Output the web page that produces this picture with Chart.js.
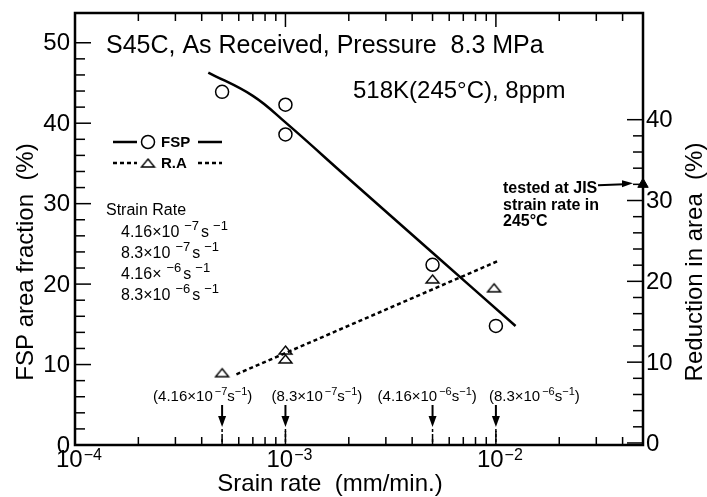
<!DOCTYPE html>
<html><head><meta charset="utf-8">
<script src="https://cdn.jsdelivr.net/npm/chart.js@4.4.0/dist/chart.umd.min.js"></script>
<style>html,body{margin:0;padding:0;background:#fff;}#wrap{width:707px;height:497px;}</style>
</head><body><div id="wrap"><canvas id="c" width="707" height="497"></canvas></div>
<script>
// ---- data ----
const fspRates = [5e-4, 1e-3, 1e-3, 5e-3, 1e-2];
const fspValues = [43.9, 42.3, 38.6, 22.4, 14.8];
const raRates = [5e-4, 1e-3, 1e-3, 5e-3, 9.8e-3];
const raValues = [8.7, 11.5, 10.4, 20.3, 19.2];
const fspFitRates = [4.3e-4, 7e-4, 1e-3, 2e-3, 5e-3, 1.24e-2];
const fspFitValues = [46.3, 43.4, 40.1, 33.1, 23.9, 14.8];
const raFitRates = [5.85e-4, 1.02e-2];
const raFitValues = [8.5, 22.5];
const jisRates = [0.05];
const jisValues = [32.0];
const leftTickLabels = [0, 10, 20, 30, 40, 50];
const rightTickLabels = [0, 10, 20, 30, 40];
const xDecades = [-4, -3, -2];
const arrowRates = [5e-4, 1e-3, 5e-3, 1e-2];
const arrowMantissa = ['(4.16×10', '(8.3×10', '(4.16×10', '(8.3×10'];
const arrowExponent = ['−7', '−7', '−6', '−6'];
const strainRateMantissa = ['4.16×10', '8.3×10', '4.16×', '8.3×10'];
const strainRateExponent = ['−7', '−7', '−6', '−6'];

const F = '"Liberation Sans", Arial, Helvetica, sans-serif';
function pts(xs, ys) { return xs.map((x, i) => ({ x: x, y: ys[i] })); }

function flatTriangle(w, h, fill) {
  const c = document.createElement('canvas');
  c.width = w + 4; c.height = h + 4;
  const g = c.getContext('2d');
  g.lineWidth = 1.4; g.strokeStyle = '#000'; g.fillStyle = '#000';
  g.beginPath(); g.moveTo(c.width / 2, 2); g.lineTo(c.width - 2, h + 2); g.lineTo(2, h + 2); g.closePath();
  if (fill) g.fill(); g.stroke();
  return c;
}
const hollowTri = flatTriangle(13, 8, false);

function rich(ctx, x, y, parts, size, supSize, rise, weight) {
  let cx = x;
  for (const p of parts) {
    if (p.g !== undefined) { cx += p.g; continue; }
    ctx.font = (weight || 'normal') + ' ' + (p.s ? supSize : size) + 'px ' + F;
    ctx.fillText(p.t, cx, p.s ? y - rise : y);
    cx += ctx.measureText(p.t).width;
  }
  return cx - x;
}

function arrowDown(ctx, x, y1, y2) {
  ctx.lineWidth = 2;
  ctx.beginPath(); ctx.moveTo(x, y1); ctx.lineTo(x, y2 - 8); ctx.stroke();
  ctx.beginPath(); ctx.moveTo(x - 4, y2 - 11); ctx.lineTo(x + 4, y2 - 11); ctx.lineTo(x, y2); ctx.closePath(); ctx.fill();
}

const decor = {
  id: 'decor',
  afterDraw(chart) {
    const ctx = chart.ctx;
    const a = chart.chartArea;
    const xs = chart.scales.x, ys = chart.scales.y, y2 = chart.scales.y2;
    ctx.save();
    ctx.strokeStyle = '#000'; ctx.fillStyle = '#000';
    ctx.lineWidth = 2.5;
    ctx.strokeRect(a.left, a.top, a.right - a.left, a.bottom - a.top);
    ctx.lineWidth = 1.5;
    for (const d of xDecades.concat([-1])) {
      for (let m = 1; m <= 9; m++) {
        const v = m * Math.pow(10, d);
        if (v < 1e-4 * 0.999 || v > 0.05 * 1.001) continue;
        const px = xs.getPixelForValue(v);
        const len = m === 1 ? 14 : 8;
        ctx.beginPath();
        ctx.moveTo(px, a.bottom); ctx.lineTo(px, a.bottom - len);
        ctx.moveTo(px, a.top); ctx.lineTo(px, a.top + len);
        ctx.stroke();
      }
    }
    for (let v = 0; v <= 50; v += 2) {
      const py = ys.getPixelForValue(v);
      const len = v % 10 === 0 ? 16 : 10;
      ctx.beginPath(); ctx.moveTo(a.left, py); ctx.lineTo(a.left + len, py); ctx.stroke();
    }
    for (let v = 0; v <= 40; v += 2) {
      const py = y2.getPixelForValue(v);
      const len = v % 10 === 0 ? 16 : 10;
      ctx.beginPath(); ctx.moveTo(a.right, py); ctx.lineTo(a.right - len, py); ctx.stroke();
    }
    ctx.font = '24px ' + F;
    ctx.textBaseline = 'middle';
    ctx.textAlign = 'right';
    for (const v of leftTickLabels) ctx.fillText(String(v), a.left - 5, ys.getPixelForValue(v) + 1);
    ctx.textAlign = 'left';
    for (const v of rightTickLabels) ctx.fillText(String(v), a.right + 3, y2.getPixelForValue(v) + 1);
    ctx.textBaseline = 'alphabetic';
    for (const d of xDecades) {
      const px = xs.getPixelForValue(Math.pow(10, d));
      rich(ctx, px - 19, 467, [{ t: '10' }, { g: 1 }, { t: '−' + String(-d), s: 1 }], 24, 16, 7);
    }
    ctx.font = '24px ' + F;
    ctx.textAlign = 'center';
    ctx.fillText('Srain rate  (mm/min.)', 330, 491);
    ctx.save(); ctx.translate(33, 262); ctx.rotate(-Math.PI / 2);
    ctx.fillText('FSP area fraction  (%)', 0, 0); ctx.restore();
    ctx.save(); ctx.translate(702, 262); ctx.rotate(-Math.PI / 2);
    ctx.fillText('Reduction in area  (%)', 0, 0); ctx.restore();
    ctx.textAlign = 'left';
    ctx.font = '25px ' + F;
    ctx.fillText('S45C, As Received, Pressure  8.3 MPa', 106, 53);
    ctx.font = '24px ' + F;
    ctx.fillText('518K(245°C), 8ppm', 353, 98);
    // legend
    ctx.lineWidth = 2.5;
    ctx.beginPath(); ctx.moveTo(113, 142); ctx.lineTo(137, 142); ctx.moveTo(198, 142); ctx.lineTo(222, 142); ctx.stroke();
    ctx.lineWidth = 1.5;
    ctx.beginPath(); ctx.arc(148, 142, 6.5, 0, Math.PI * 2); ctx.stroke();
    ctx.lineWidth = 2.5; ctx.setLineDash([4, 3]);
    ctx.beginPath(); ctx.moveTo(113, 163); ctx.lineTo(137, 163); ctx.moveTo(198, 163); ctx.lineTo(222, 163); ctx.stroke();
    ctx.setLineDash([]);
    ctx.drawImage(hollowTri, 148 - hollowTri.width / 2, 163 - hollowTri.height / 2);
    ctx.font = 'bold 15px ' + F;
    ctx.textBaseline = 'middle';
    ctx.fillText('FSP', 161, 143);
    ctx.fillText('R.A', 161, 164);
    ctx.textBaseline = 'alphabetic';
    // strain rate list
    ctx.font = '16px ' + F;
    ctx.fillText('Strain Rate', 106, 215);
    const baselines = [237, 258, 279, 300];
    for (let i = 0; i < 4; i++) {
      rich(ctx, 121, baselines[i], [{ t: strainRateMantissa[i] }, { g: 5 }, { t: strainRateExponent[i], s: 1 }, { g: 2 }, { t: 's' }, { g: 4 }, { t: '−1', s: 1 }], 16, 13, 7);
    }
    const offs = [-69, -14, -55, -7];
    for (let i = 0; i < arrowRates.length; i++) {
      const px = xs.getPixelForValue(arrowRates[i]);
      rich(ctx, px + offs[i], 401, [{ t: arrowMantissa[i] }, { g: 2 }, { t: arrowExponent[i], s: 1 }, { t: 's' }, { t: '−1', s: 1 }, { t: ')' }], 15, 11, 6);
      arrowDown(ctx, px, 405, 427);
      ctx.lineWidth = 1.5; ctx.setLineDash([3, 2]);
      ctx.beginPath(); ctx.moveTo(px, 429); ctx.lineTo(px, a.bottom); ctx.stroke();
      ctx.setLineDash([]);
    }
    ctx.font = 'bold 16px ' + F;
    ctx.fillText('tested at JIS', 503, 193);
    ctx.fillText('strain rate in', 503, 209.5);
    ctx.fillText('245°C', 503, 226);
    const jy = y2.getPixelForValue(jisValues[0]);
    ctx.lineWidth = 2;
    ctx.beginPath(); ctx.moveTo(598, jy + 1); ctx.lineTo(624, jy); ctx.stroke();
    ctx.beginPath(); ctx.moveTo(622, jy - 4); ctx.lineTo(633, jy - 1); ctx.lineTo(622, jy + 3); ctx.closePath(); ctx.fill();
    ctx.restore();
  }
};

new Chart(document.getElementById('c'), {
  type: 'scatter',
  data: {
    datasets: [
      { label: 'FSP fit', data: pts(fspFitRates, fspFitValues), showLine: true, borderColor: '#000', borderWidth: 2.5, pointRadius: 0, tension: 0.4, yAxisID: 'y' },
      { label: 'R.A fit', data: pts(raFitRates, raFitValues), showLine: true, borderColor: '#000', borderWidth: 2.5, borderDash: [4, 3], pointRadius: 0, yAxisID: 'y2' },
      { label: 'FSP', data: pts(fspRates, fspValues), pointStyle: 'circle', pointRadius: 6.5, borderWidth: 1.5, borderColor: '#000', backgroundColor: 'rgba(255,255,255,0)', yAxisID: 'y' },
      { label: 'R.A', data: pts(raRates, raValues), pointStyle: hollowTri, pointRadius: 6.5, yAxisID: 'y2' },
      { label: 'JIS', data: pts(jisRates, jisValues), pointStyle: 'triangle', pointRadius: 6, borderWidth: 1, borderColor: '#000', backgroundColor: '#000', yAxisID: 'y2', clip: false }
    ]
  },
  options: {
    responsive: false, animation: false, devicePixelRatio: 1,
    layout: { padding: { left: 75, right: 64, top: 13, bottom: 52 } },
    plugins: { legend: { display: false }, tooltip: { enabled: false } },
    scales: {
      x: { type: 'logarithmic', min: 1e-4, max: 0.05, display: false },
      y: { min: 0, max: 53.7, display: false },
      y2: { min: -0.25, max: 53.2, display: false, position: 'right' }
    }
  },
  plugins: [decor]
});
</script></body></html>
